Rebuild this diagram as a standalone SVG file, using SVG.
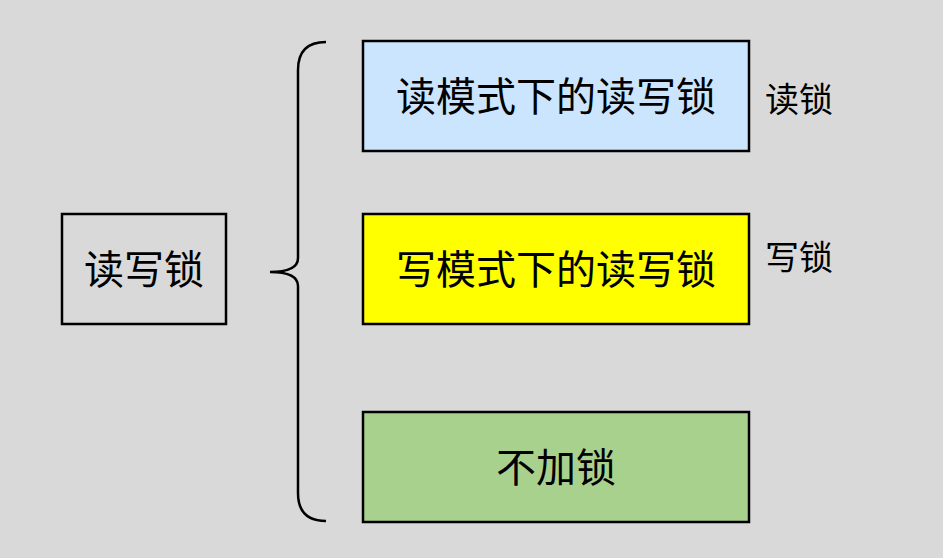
<svg xmlns="http://www.w3.org/2000/svg" width="943" height="558" viewBox="0 0 943 558">
<style>
.b{stroke:#000;stroke-width:2.5}
.t{font-family:"Liberation Sans","Noto Sans CJK SC",sans-serif;font-size:40px;fill:#000;text-anchor:middle;dominant-baseline:central}
.s{font-family:"Liberation Sans","Noto Sans CJK SC",sans-serif;font-size:34px;fill:#000}
</style>
<rect width="943" height="558" fill="#d9d9d9"/>
<g id="root"><rect class="b" x="62" y="214" width="164" height="110" fill="none"/><text class="t" x="144" y="270">读写锁</text></g>
<g id="connectors"><path d="M326,42 Q298,42 298,70 L298,258 Q298,272 270,272 Q298,272 298,286 L298,493 Q298,521 326,521" fill="none" stroke="#000" stroke-width="2.5"/></g>
<g id="read"><rect class="b" x="363" y="41" width="386" height="110" fill="#cce5ff"/><text class="t" x="556" y="97">读模式下的读写锁</text></g>
<g id="write"><rect class="b" x="363" y="214" width="386" height="110" fill="#ffff00"/><text class="t" x="556" y="270">写模式下的读写锁</text></g>
<g id="none"><rect class="b" x="363" y="412" width="386" height="110" fill="#a9d18e"/><text class="t" x="556" y="468">不加锁</text></g>
<text class="s" x="765" y="112">读锁</text>
<text class="s" x="765" y="270">写锁</text>
</svg>
